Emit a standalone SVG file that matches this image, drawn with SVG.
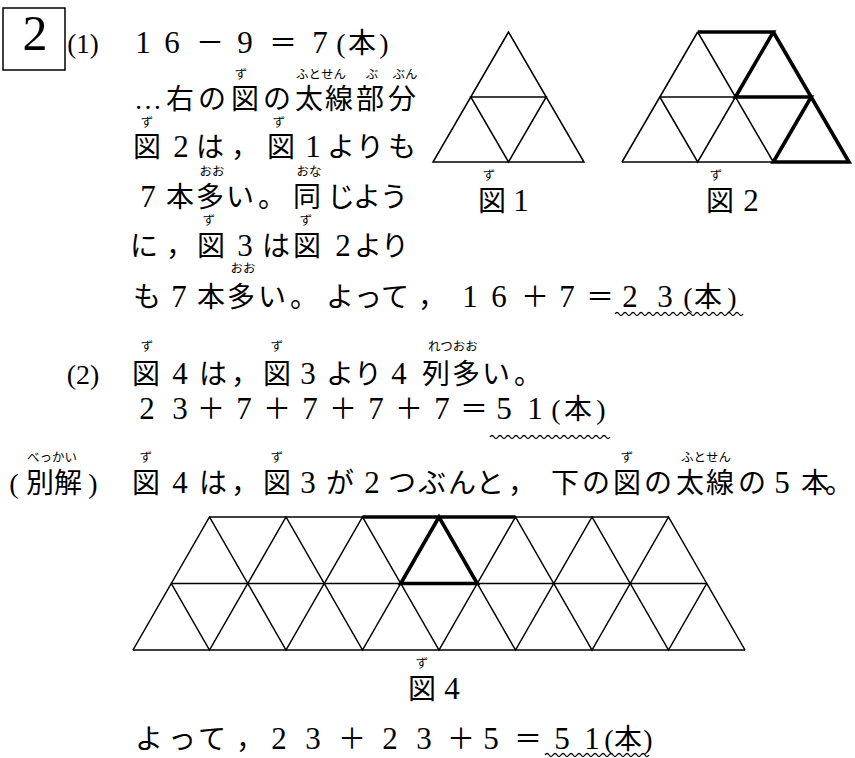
<svg xmlns="http://www.w3.org/2000/svg" width="855" height="758" viewBox="0 0 855 758">
<style>
text{font-family:"Liberation Serif","Noto Sans CJK JP",serif;fill:#000;text-anchor:middle}
.m{font-size:28px}
.d{font-size:31px}
.r{font-size:12.5px}
.thin{stroke:#000;stroke-width:1.5;fill:none;stroke-linejoin:miter}
.thick{stroke:#000;stroke-width:3.6;fill:none;stroke-linejoin:miter}
.wave{stroke:#000;stroke-width:1.3;fill:none}
</style>
<rect x="0" y="0" width="855" height="758" fill="#fff"/>

<g id="header">
<rect x="3" y="8" width="62" height="62" fill="none" stroke="#000" stroke-width="1.5"/>
<text x="35" y="50" style="font-size:50px">2</text>
<text x="83" y="53" style="font-size:27px">(1)</text>
</g>

<g id="part1-text">
<text class="m" y="53"><tspan class="d" x="143 172">16</tspan><tspan x="210">－</tspan><tspan class="d" x="245">9</tspan><tspan x="283">＝</tspan><tspan class="d" x="320">7</tspan><tspan x="341 362 384">(本)</tspan></text>

<text class="r" y="79" x="241">ず</text>
<text class="r" y="79" x="321">ふとせん</text>
<text class="r" y="79" x="372">ぶ</text>
<text class="r" y="79" x="405">ぶん</text>
<text class="m" y="109" x="148 180 212 245 277 309 339 370 402">…右の図の太線部分</text>

<text class="r" y="127" x="147">ず</text>
<text class="r" y="127" x="279">ず</text>
<text class="m" y="157"><tspan x="147">図</tspan><tspan class="d" x="181">2</tspan><tspan x="210 245 281">は，図</tspan><tspan class="d" x="313">1</tspan><tspan x="341 370 402">よりも</tspan></text>

<text class="r" y="176" x="212">おお</text>
<text class="r" y="176" x="309">おな</text>
<text class="m" y="207"><tspan class="d" x="148">7</tspan><tspan x="180 210 240 272 307 341 367 394">本多い。同じよう</tspan></text>

<text class="r" y="225" x="209">ず</text>
<text class="r" y="225" x="306">ず</text>
<text class="m" y="256"><tspan x="144 180 211">に，図</tspan><tspan class="d" x="245">3</tspan><tspan x="276 307">は図</tspan><tspan class="d" x="343">2</tspan><tspan x="368 395">より</tspan></text>

<text class="r" y="273" x="243">おお</text>
<text class="m" y="307"><tspan x="147">も</tspan><tspan class="d" x="179">7</tspan><tspan x="211 241 272 304 340 368 395 432">本多い。よって，</tspan><tspan class="d" x="470 499">16</tspan><tspan x="535">＋</tspan><tspan class="d" x="567">7</tspan><tspan x="600">＝</tspan><tspan class="d" x="630 665">23</tspan><tspan x="688 708 732">(本)</tspan></text>
</g>

<g id="fig1">
<polygon class="thin" points="508.5,32 433,162 584,162"/>
<polygon class="thin" points="470.75,97 546.25,97 508.5,162"/>
<text class="r" y="180" x="489">ず</text>
<text class="m" y="211"><tspan x="492">図</tspan><tspan class="d" x="521">1</tspan></text>
</g>

<g id="fig2">
<polyline class="thin" points="622,162 697.67,32"/>
<line class="thin" x1="622" y1="162" x2="773.33" y2="162"/>
<line class="thin" x1="659.83" y1="97" x2="735.5" y2="97"/>
<polyline class="thin" points="697.67,32 773.33,162"/>
<polyline class="thin" points="659.83,97 697.67,162 735.5,97"/>
<polyline class="thick" points="697.67,32 773.33,32 735.5,97 811.17,97 773.33,162 849,162 773.33,32"/>
<text class="r" y="180" x="716">ず</text>
<text class="m" y="211"><tspan x="720">図</tspan><tspan class="d" x="751">2</tspan></text>
</g>

<g id="part2-text">
<text x="83" y="384" style="font-size:28px">(2)</text>
<text class="r" y="351" x="147">ず</text>
<text class="r" y="351" x="277">ず</text>
<text class="r" y="351" x="453">れつおお</text>
<text class="m" y="384"><tspan x="146">図</tspan><tspan class="d" x="180">4</tspan><tspan x="213 245 277">は，図</tspan><tspan class="d" x="308">3</tspan><tspan x="340 368">より</tspan><tspan class="d" x="399">4</tspan><tspan x="436 466 496 528">列多い。</tspan></text>

<text class="m" y="419"><tspan class="d" x="147 180">23</tspan><tspan x="211">＋</tspan><tspan class="d" x="244">7</tspan><tspan x="277">＋</tspan><tspan class="d" x="310">7</tspan><tspan x="343">＋</tspan><tspan class="d" x="376">7</tspan><tspan x="409">＋</tspan><tspan class="d" x="442">7</tspan><tspan x="474">＝</tspan><tspan class="d" x="504 535">51</tspan><tspan x="556 578 601">(本)</tspan></text>

<text class="r" y="462" x="52">べっかい</text>
<text class="r" y="462" x="146">ず</text>
<text class="r" y="462" x="277">ず</text>
<text class="r" y="462" x="627">ず</text>
<text class="r" y="462" x="706">ふとせん</text>
<text class="m" y="493"><tspan x="14 40 68 93">(別解)</tspan><tspan x="146">図</tspan><tspan class="d" x="180">4</tspan><tspan x="213 245 277">は，図</tspan><tspan class="d" x="308">3</tspan><tspan x="340">が</tspan><tspan class="d" x="372">2</tspan><tspan x="402 432 462 490 522 565 596 627 658 690 720 752">つぶんと，下の図の太線の</tspan><tspan class="d" x="782">5</tspan><tspan x="815 839">本。</tspan></text>
</g>

<g id="fig4">
<line class="thin" x1="133" y1="650" x2="745" y2="650"/>
<line class="thin" x1="171.25" y1="583.5" x2="706.75" y2="583.5"/>
<line class="thin" x1="209.5" y1="517" x2="668.5" y2="517"/>
<polyline class="thin" points="133,650 171.25,583.5 209.5,650 247.75,583.5 286,650 324.25,583.5 362.5,650 400.75,583.5 439,650 477.25,583.5 515.5,650 553.75,583.5 592,650 630.25,583.5 668.5,650 706.75,583.5 745,650"/>
<polyline class="thin" points="171.25,583.5 209.5,517 247.75,583.5 286,517 324.25,583.5 362.5,517 400.75,583.5 439,517 477.25,583.5 515.5,517 553.75,583.5 592,517 630.25,583.5 668.5,517 706.75,583.5"/>
<polyline class="thick" points="362.5,517 515.5,517"/>
<polygon class="thick" points="439,517 400.75,583.5 477.25,583.5"/>
<text class="r" y="668" x="422">ず</text>
<text class="m" y="699"><tspan x="422">図</tspan><tspan class="d" x="452">4</tspan></text>
</g>

<g id="final-text">
<text class="m" y="749"><tspan x="149 182 212 250">よって，</tspan><tspan class="d" x="279 313">23</tspan><tspan x="352">＋</tspan><tspan class="d" x="390 424">23</tspan><tspan x="461">＋</tspan><tspan class="d" x="491">5</tspan><tspan x="528">＝</tspan><tspan class="d" x="562 592">51</tspan><tspan x="609 628 648">(本)</tspan></text>
</g>

<g id="underlines">
<path class="wave" d="M615,314 q2,-3 4,0 t4,0 t4,0 t4,0 t4,0 t4,0 t4,0 t4,0 t4,0 t4,0 t4,0 t4,0 t4,0 t4,0 t4,0 t4,0 t4,0 t4,0 t4,0 t4,0 t4,0 t4,0 t4,0 t4,0 t4,0 t4,0 t4,0 t4,0 t4,0 t4,0 t4,0 t4,0"/>
<path class="wave" d="M490,437 q2,-3 4,0 t4,0 t4,0 t4,0 t4,0 t4,0 t4,0 t4,0 t4,0 t4,0 t4,0 t4,0 t4,0 t4,0 t4,0 t4,0 t4,0 t4,0 t4,0 t4,0 t4,0 t4,0 t4,0 t4,0 t4,0 t4,0 t4,0 t4,0 t4,0 t4,0"/>
<path class="wave" d="M545,755 q2,-3 4,0 t4,0 t4,0 t4,0 t4,0 t4,0 t4,0 t4,0 t4,0 t4,0 t4,0 t4,0 t4,0 t4,0 t4,0 t4,0 t4,0 t4,0 t4,0 t4,0 t4,0 t4,0 t4,0 t4,0 t4,0 t4,0"/>
</g>
</svg>
